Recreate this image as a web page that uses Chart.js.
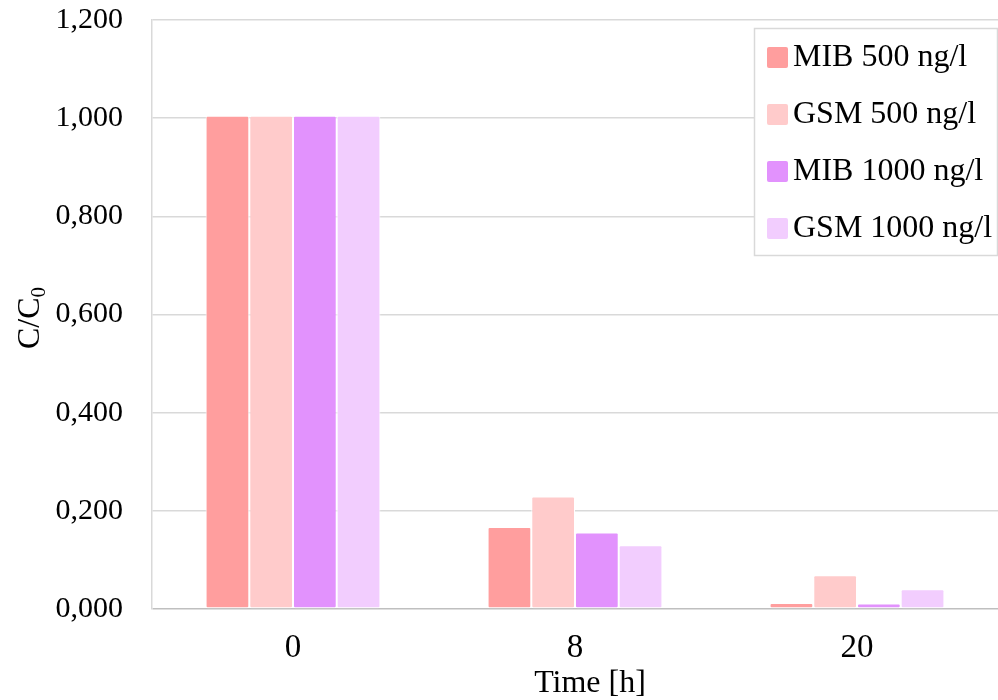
<!DOCTYPE html>
<html>
<head>
<meta charset="utf-8">
<script src="https://cdn.jsdelivr.net/npm/chart.js@4.4.0/dist/chart.umd.min.js"></script>
<style>
  html, body { margin: 0; padding: 0; background: #fff; }
  #wrap { width: 998px; height: 700px; position: relative; }
</style>
</head>
<body>
<div id="wrap"><canvas id="chartjs-0"></canvas></div>
<script>
// categories (time in hours)
var timeLabels = ["0", "8", "20"];

// C/C0 values per series
var mib500 = [1.005, 0.167, 0.012];
var gsm500 = [1.005, 0.229, 0.069];
var mib1000 = [1.005, 0.156, 0.011];
var gsm1000 = [1.005, 0.130, 0.040];

var seriesNames = ["MIB 500 ng/l", "GSM 500 ng/l", "MIB 1000 ng/l", "GSM 1000 ng/l"];
var seriesColors = ["#ff9e9e", "#ffcbcb", "#e292fd", "#f2cdfe"];

var yTicks = [0, 0.2, 0.4, 0.6, 0.8, 1.0, 1.2];

var serif = "'Liberation Serif', 'Times New Roman', serif";

function makeSet(i, values) {
  return {
    label: seriesNames[i],
    data: values,
    backgroundColor: seriesColors[i],
    borderColor: "#ffffff",
    borderWidth: 1,
    borderRadius: 2,
    borderSkipped: false
  };
}

/* draws the axis titles (y one has a subscript) and the boxed legend */
var extras = {
  id: "extras",
  afterDraw: function (chart) {
    var ctx = chart.ctx;
    // x axis title, sits a bit right of centre in the original
    ctx.save();
    ctx.fillStyle = "#000";
    ctx.font = "32px " + serif;
    ctx.textAlign = "center";
    ctx.textBaseline = "alphabetic";
    ctx.fillText("Time [h]", 590, 692);
    ctx.restore();

    // y axis title C/C0
    ctx.save();
    ctx.translate(39, 318);
    ctx.rotate(-Math.PI / 2);
    ctx.fillStyle = "#000";
    ctx.textBaseline = "alphabetic";
    ctx.textAlign = "left";
    ctx.font = "32px " + serif;
    var w = ctx.measureText("C/C").width;
    ctx.font = "21px " + serif;
    var w0 = ctx.measureText("0").width;
    var start = -(w + w0) / 2;
    ctx.font = "32px " + serif;
    ctx.fillText("C/C", start, 0);
    ctx.font = "21px " + serif;
    ctx.fillText("0", start + w, 6);
    ctx.restore();

    // legend box
    ctx.save();
    ctx.strokeStyle = "#d9d9d9";
    ctx.lineWidth = 1.5;
    ctx.fillStyle = "#fff";
    ctx.fillRect(754.5, 28.5, 243, 227);
    ctx.strokeRect(754.5, 28.5, 243, 227);
    ctx.font = "32px " + serif;
    ctx.textBaseline = "middle";
    ctx.textAlign = "left";
    for (var i = 0; i < seriesNames.length; i++) {
      var cy = 57 + i * 57;
      ctx.fillStyle = seriesColors[i];
      ctx.beginPath();
      ctx.roundRect(767, cy - 10, 21, 21, 2);
      ctx.fill();
      ctx.fillStyle = "#000";
      ctx.fillText(seriesNames[i], 793, cy + 1);
    }
    ctx.restore();
  }
};

var ctx0 = document.getElementById("chartjs-0");
var myChart = new Chart(ctx0, {
  type: "bar",
  data: {
    labels: timeLabels,
    datasets: [
      makeSet(0, mib500),
      makeSet(1, gsm500),
      makeSet(2, mib1000),
      makeSet(3, gsm1000)
    ]
  },
  options: {
    responsive: true,
    maintainAspectRatio: false,
    animation: false,
    layout: { padding: { top: 20, right: 0, left: 0, bottom: 0 } },
    datasets: {
      bar: { barPercentage: 1.0, categoryPercentage: 0.62 }
    },
    plugins: {
      legend: { display: false },
      tooltip: { enabled: false }
    },
    scales: {
      x: {
        grid: { display: false, drawTicks: false },
        border: { display: false },
        ticks: { color: "#000", font: { family: serif, size: 33 }, padding: 20 },
        afterFit: function (scale) { scale.height = 91; }
      },
      y: {
        min: 0,
        max: 1.2,
        afterBuildTicks: function (scale) {
          scale.ticks = yTicks.map(function (v) { return { value: v }; });
        },
        grid: {
          drawTicks: false,
          lineWidth: 1.5,
          color: function (c) { return c.tick && c.tick.value === 0 ? "#bfbfbf" : "#d9d9d9"; }
        },
        border: { display: true, color: "#d9d9d9", width: 1.5 },
        ticks: {
          color: "#000",
          font: { family: serif, size: 30 },
          padding: 29,
          callback: function (v) { return Number(v).toFixed(3).replace(".", ","); }
        },
        afterFit: function (scale) {
          scale.width = 152;
          scale.paddingTop = 0;
          scale.paddingBottom = 0;
        }
      }
    }
  },
  plugins: [extras]
});
</script>
</body>
</html>
